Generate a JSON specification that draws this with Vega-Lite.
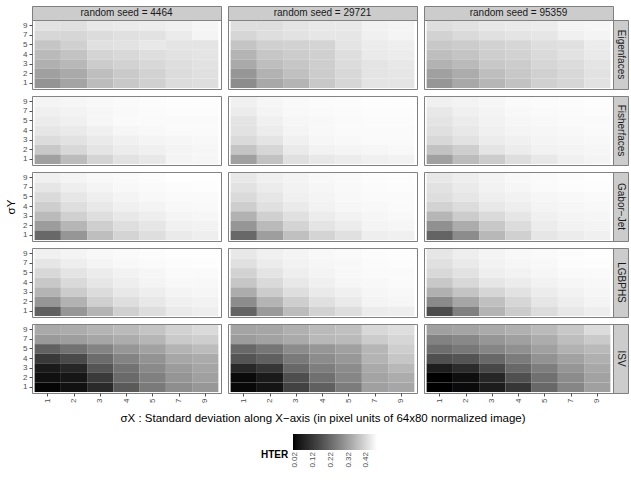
{
"$schema":"https://vega.github.io/schema/vega-lite/v6.json",
"padding":{"left":5,"top":5,"right":5,"bottom":5},
"background":"#ffffff",
"config":{
 "font":"Liberation Sans",
 "view":{"stroke":"#7f7f7f","strokeWidth":1},
 "axis":{"labelFont":"Liberation Sans","labelFontSize":8,"labelColor":"#4d4d4d","tickColor":"#4d4d4d","tickSize":3,"labelPadding":2,"domain":false,"grid":false,"titleFont":"Liberation Sans","titleFontWeight":"normal","titleFontSize":11.5,"titleColor":"#000000","titleLimit":700},
 "legend":{"orient":"none","legendX":229,"legendY":428,"direction":"horizontal","gradientLength":84,"gradientThickness":16,"titleOrient":"left","titleAnchor":"end","titleBaseline":"top","titleFontWeight":"bold","titleFontSize":10,"titleColor":"#000000","titleFont":"Liberation Sans","labelFont":"Liberation Sans","labelFontSize":8,"labelColor":"#4d4d4d","titlePadding":4,"gradientStrokeWidth":0}
},
"datasets":{
"Eigenfaces_4464":[
{"sx":1,"sy":9,"HTER":0.432},{"sx":2,"sy":9,"HTER":0.429},{"sx":3,"sy":9,"HTER":0.444},{"sx":4,"sy":9,"HTER":0.447},{"sx":5,"sy":9,"HTER":0.450},{"sx":7,"sy":9,"HTER":0.455},{"sx":9,"sy":9,"HTER":0.463},
{"sx":1,"sy":7,"HTER":0.413},{"sx":2,"sy":7,"HTER":0.412},{"sx":3,"sy":7,"HTER":0.422},{"sx":4,"sy":7,"HTER":0.429},{"sx":5,"sy":7,"HTER":0.432},{"sx":7,"sy":7,"HTER":0.447},{"sx":9,"sy":7,"HTER":0.462},
{"sx":1,"sy":5,"HTER":0.383},{"sx":2,"sy":5,"HTER":0.402},{"sx":3,"sy":5,"HTER":0.429},{"sx":4,"sy":5,"HTER":0.432},{"sx":5,"sy":5,"HTER":0.442},{"sx":7,"sy":5,"HTER":0.436},{"sx":9,"sy":5,"HTER":0.436},
{"sx":1,"sy":4,"HTER":0.364},{"sx":2,"sy":4,"HTER":0.380},{"sx":3,"sy":4,"HTER":0.408},{"sx":4,"sy":4,"HTER":0.415},{"sx":5,"sy":4,"HTER":0.425},{"sx":7,"sy":4,"HTER":0.432},{"sx":9,"sy":4,"HTER":0.436},
{"sx":1,"sy":3,"HTER":0.347},{"sx":2,"sy":3,"HTER":0.361},{"sx":3,"sy":3,"HTER":0.395},{"sx":4,"sy":3,"HTER":0.405},{"sx":5,"sy":3,"HTER":0.415},{"sx":7,"sy":3,"HTER":0.425},{"sx":9,"sy":3,"HTER":0.432},
{"sx":1,"sy":2,"HTER":0.319},{"sx":2,"sy":2,"HTER":0.336},{"sx":3,"sy":2,"HTER":0.371},{"sx":4,"sy":2,"HTER":0.391},{"sx":5,"sy":2,"HTER":0.405},{"sx":7,"sy":2,"HTER":0.422},{"sx":9,"sy":2,"HTER":0.429},
{"sx":1,"sy":1,"HTER":0.297},{"sx":2,"sy":1,"HTER":0.326},{"sx":3,"sy":1,"HTER":0.368},{"sx":4,"sy":1,"HTER":0.388},{"sx":5,"sy":1,"HTER":0.402},{"sx":7,"sy":1,"HTER":0.422},{"sx":9,"sy":1,"HTER":0.425}
],
"Eigenfaces_29721":[
{"sx":1,"sy":9,"HTER":0.425},{"sx":2,"sy":9,"HTER":0.425},{"sx":3,"sy":9,"HTER":0.436},{"sx":4,"sy":9,"HTER":0.442},{"sx":5,"sy":9,"HTER":0.442},{"sx":7,"sy":9,"HTER":0.458},{"sx":9,"sy":9,"HTER":0.462},
{"sx":1,"sy":7,"HTER":0.412},{"sx":2,"sy":7,"HTER":0.425},{"sx":3,"sy":7,"HTER":0.432},{"sx":4,"sy":7,"HTER":0.439},{"sx":5,"sy":7,"HTER":0.439},{"sx":7,"sy":7,"HTER":0.455},{"sx":9,"sy":7,"HTER":0.462},
{"sx":1,"sy":5,"HTER":0.381},{"sx":2,"sy":5,"HTER":0.402},{"sx":3,"sy":5,"HTER":0.405},{"sx":4,"sy":5,"HTER":0.408},{"sx":5,"sy":5,"HTER":0.436},{"sx":7,"sy":5,"HTER":0.448},{"sx":9,"sy":5,"HTER":0.452},
{"sx":1,"sy":4,"HTER":0.354},{"sx":2,"sy":4,"HTER":0.385},{"sx":3,"sy":4,"HTER":0.395},{"sx":4,"sy":4,"HTER":0.402},{"sx":5,"sy":4,"HTER":0.425},{"sx":7,"sy":4,"HTER":0.445},{"sx":9,"sy":4,"HTER":0.448},
{"sx":1,"sy":3,"HTER":0.336},{"sx":2,"sy":3,"HTER":0.371},{"sx":3,"sy":3,"HTER":0.385},{"sx":4,"sy":3,"HTER":0.398},{"sx":5,"sy":3,"HTER":0.422},{"sx":7,"sy":3,"HTER":0.436},{"sx":9,"sy":3,"HTER":0.442},
{"sx":1,"sy":2,"HTER":0.301},{"sx":2,"sy":2,"HTER":0.350},{"sx":3,"sy":2,"HTER":0.374},{"sx":4,"sy":2,"HTER":0.395},{"sx":5,"sy":2,"HTER":0.415},{"sx":7,"sy":2,"HTER":0.436},{"sx":9,"sy":2,"HTER":0.439},
{"sx":1,"sy":1,"HTER":0.283},{"sx":2,"sy":1,"HTER":0.333},{"sx":3,"sy":1,"HTER":0.354},{"sx":4,"sy":1,"HTER":0.388},{"sx":5,"sy":1,"HTER":0.412},{"sx":7,"sy":1,"HTER":0.436},{"sx":9,"sy":1,"HTER":0.436}
],
"Eigenfaces_95359":[
{"sx":1,"sy":9,"HTER":0.425},{"sx":2,"sy":9,"HTER":0.432},{"sx":3,"sy":9,"HTER":0.442},{"sx":4,"sy":9,"HTER":0.445},{"sx":5,"sy":9,"HTER":0.448},{"sx":7,"sy":9,"HTER":0.462},{"sx":9,"sy":9,"HTER":0.465},
{"sx":1,"sy":7,"HTER":0.405},{"sx":2,"sy":7,"HTER":0.418},{"sx":3,"sy":7,"HTER":0.429},{"sx":4,"sy":7,"HTER":0.436},{"sx":5,"sy":7,"HTER":0.439},{"sx":7,"sy":7,"HTER":0.455},{"sx":9,"sy":7,"HTER":0.462},
{"sx":1,"sy":5,"HTER":0.388},{"sx":2,"sy":5,"HTER":0.395},{"sx":3,"sy":5,"HTER":0.405},{"sx":4,"sy":5,"HTER":0.412},{"sx":5,"sy":5,"HTER":0.425},{"sx":7,"sy":5,"HTER":0.429},{"sx":9,"sy":5,"HTER":0.448},
{"sx":1,"sy":4,"HTER":0.371},{"sx":2,"sy":4,"HTER":0.381},{"sx":3,"sy":4,"HTER":0.398},{"sx":4,"sy":4,"HTER":0.405},{"sx":5,"sy":4,"HTER":0.418},{"sx":7,"sy":4,"HTER":0.432},{"sx":9,"sy":4,"HTER":0.445},
{"sx":1,"sy":3,"HTER":0.350},{"sx":2,"sy":3,"HTER":0.364},{"sx":3,"sy":3,"HTER":0.388},{"sx":4,"sy":3,"HTER":0.395},{"sx":5,"sy":3,"HTER":0.412},{"sx":7,"sy":3,"HTER":0.422},{"sx":9,"sy":3,"HTER":0.436},
{"sx":1,"sy":2,"HTER":0.319},{"sx":2,"sy":2,"HTER":0.340},{"sx":3,"sy":2,"HTER":0.371},{"sx":4,"sy":2,"HTER":0.388},{"sx":5,"sy":2,"HTER":0.402},{"sx":7,"sy":2,"HTER":0.415},{"sx":9,"sy":2,"HTER":0.432},
{"sx":1,"sy":1,"HTER":0.301},{"sx":2,"sy":1,"HTER":0.333},{"sx":3,"sy":1,"HTER":0.357},{"sx":4,"sy":1,"HTER":0.378},{"sx":5,"sy":1,"HTER":0.402},{"sx":7,"sy":1,"HTER":0.412},{"sx":9,"sy":1,"HTER":0.432}
],
"Fisherfaces_4464":[
{"sx":1,"sy":9,"HTER":0.462},{"sx":2,"sy":9,"HTER":0.465},{"sx":3,"sy":9,"HTER":0.468},{"sx":4,"sy":9,"HTER":0.472},{"sx":5,"sy":9,"HTER":0.475},{"sx":7,"sy":9,"HTER":0.477},{"sx":9,"sy":9,"HTER":0.477},
{"sx":1,"sy":7,"HTER":0.455},{"sx":2,"sy":7,"HTER":0.460},{"sx":3,"sy":7,"HTER":0.465},{"sx":4,"sy":7,"HTER":0.470},{"sx":5,"sy":7,"HTER":0.474},{"sx":7,"sy":7,"HTER":0.475},{"sx":9,"sy":7,"HTER":0.475},
{"sx":1,"sy":5,"HTER":0.448},{"sx":2,"sy":5,"HTER":0.455},{"sx":3,"sy":5,"HTER":0.465},{"sx":4,"sy":5,"HTER":0.472},{"sx":5,"sy":5,"HTER":0.472},{"sx":7,"sy":5,"HTER":0.472},{"sx":9,"sy":5,"HTER":0.472},
{"sx":1,"sy":4,"HTER":0.439},{"sx":2,"sy":4,"HTER":0.445},{"sx":3,"sy":4,"HTER":0.455},{"sx":4,"sy":4,"HTER":0.465},{"sx":5,"sy":4,"HTER":0.468},{"sx":7,"sy":4,"HTER":0.472},{"sx":9,"sy":4,"HTER":0.472},
{"sx":1,"sy":3,"HTER":0.422},{"sx":2,"sy":3,"HTER":0.432},{"sx":3,"sy":3,"HTER":0.445},{"sx":4,"sy":3,"HTER":0.455},{"sx":5,"sy":3,"HTER":0.462},{"sx":7,"sy":3,"HTER":0.465},{"sx":9,"sy":3,"HTER":0.468},
{"sx":1,"sy":2,"HTER":0.388},{"sx":2,"sy":2,"HTER":0.415},{"sx":3,"sy":2,"HTER":0.436},{"sx":4,"sy":2,"HTER":0.448},{"sx":5,"sy":2,"HTER":0.455},{"sx":7,"sy":2,"HTER":0.462},{"sx":9,"sy":2,"HTER":0.465},
{"sx":1,"sy":1,"HTER":0.319},{"sx":2,"sy":1,"HTER":0.368},{"sx":3,"sy":1,"HTER":0.408},{"sx":4,"sy":1,"HTER":0.432},{"sx":5,"sy":1,"HTER":0.442},{"sx":7,"sy":1,"HTER":0.462},{"sx":9,"sy":1,"HTER":0.465}
],
"Fisherfaces_29721":[
{"sx":1,"sy":9,"HTER":0.455},{"sx":2,"sy":9,"HTER":0.465},{"sx":3,"sy":9,"HTER":0.470},{"sx":4,"sy":9,"HTER":0.474},{"sx":5,"sy":9,"HTER":0.475},{"sx":7,"sy":9,"HTER":0.477},{"sx":9,"sy":9,"HTER":0.477},
{"sx":1,"sy":7,"HTER":0.448},{"sx":2,"sy":7,"HTER":0.462},{"sx":3,"sy":7,"HTER":0.468},{"sx":4,"sy":7,"HTER":0.472},{"sx":5,"sy":7,"HTER":0.474},{"sx":7,"sy":7,"HTER":0.475},{"sx":9,"sy":7,"HTER":0.475},
{"sx":1,"sy":5,"HTER":0.436},{"sx":2,"sy":5,"HTER":0.455},{"sx":3,"sy":5,"HTER":0.465},{"sx":4,"sy":5,"HTER":0.468},{"sx":5,"sy":5,"HTER":0.472},{"sx":7,"sy":5,"HTER":0.474},{"sx":9,"sy":5,"HTER":0.474},
{"sx":1,"sy":4,"HTER":0.432},{"sx":2,"sy":4,"HTER":0.448},{"sx":3,"sy":4,"HTER":0.462},{"sx":4,"sy":4,"HTER":0.468},{"sx":5,"sy":4,"HTER":0.472},{"sx":7,"sy":4,"HTER":0.472},{"sx":9,"sy":4,"HTER":0.472},
{"sx":1,"sy":3,"HTER":0.418},{"sx":2,"sy":3,"HTER":0.436},{"sx":3,"sy":3,"HTER":0.455},{"sx":4,"sy":3,"HTER":0.465},{"sx":5,"sy":3,"HTER":0.468},{"sx":7,"sy":3,"HTER":0.472},{"sx":9,"sy":3,"HTER":0.472},
{"sx":1,"sy":2,"HTER":0.381},{"sx":2,"sy":2,"HTER":0.412},{"sx":3,"sy":2,"HTER":0.445},{"sx":4,"sy":2,"HTER":0.458},{"sx":5,"sy":2,"HTER":0.462},{"sx":7,"sy":2,"HTER":0.465},{"sx":9,"sy":2,"HTER":0.468},
{"sx":1,"sy":1,"HTER":0.319},{"sx":2,"sy":1,"HTER":0.378},{"sx":3,"sy":1,"HTER":0.429},{"sx":4,"sy":1,"HTER":0.442},{"sx":5,"sy":1,"HTER":0.448},{"sx":7,"sy":1,"HTER":0.455},{"sx":9,"sy":1,"HTER":0.458}
],
"Fisherfaces_95359":[
{"sx":1,"sy":9,"HTER":0.455},{"sx":2,"sy":9,"HTER":0.460},{"sx":3,"sy":9,"HTER":0.465},{"sx":4,"sy":9,"HTER":0.472},{"sx":5,"sy":9,"HTER":0.474},{"sx":7,"sy":9,"HTER":0.475},{"sx":9,"sy":9,"HTER":0.477},
{"sx":1,"sy":7,"HTER":0.442},{"sx":2,"sy":7,"HTER":0.455},{"sx":3,"sy":7,"HTER":0.462},{"sx":4,"sy":7,"HTER":0.468},{"sx":5,"sy":7,"HTER":0.472},{"sx":7,"sy":7,"HTER":0.474},{"sx":9,"sy":7,"HTER":0.475},
{"sx":1,"sy":5,"HTER":0.436},{"sx":2,"sy":5,"HTER":0.448},{"sx":3,"sy":5,"HTER":0.458},{"sx":4,"sy":5,"HTER":0.465},{"sx":5,"sy":5,"HTER":0.468},{"sx":7,"sy":5,"HTER":0.472},{"sx":9,"sy":5,"HTER":0.472},
{"sx":1,"sy":4,"HTER":0.429},{"sx":2,"sy":4,"HTER":0.442},{"sx":3,"sy":4,"HTER":0.455},{"sx":4,"sy":4,"HTER":0.462},{"sx":5,"sy":4,"HTER":0.465},{"sx":7,"sy":4,"HTER":0.468},{"sx":9,"sy":4,"HTER":0.472},
{"sx":1,"sy":3,"HTER":0.415},{"sx":2,"sy":3,"HTER":0.432},{"sx":3,"sy":3,"HTER":0.448},{"sx":4,"sy":3,"HTER":0.455},{"sx":5,"sy":3,"HTER":0.462},{"sx":7,"sy":3,"HTER":0.465},{"sx":9,"sy":3,"HTER":0.468},
{"sx":1,"sy":2,"HTER":0.378},{"sx":2,"sy":2,"HTER":0.398},{"sx":3,"sy":2,"HTER":0.436},{"sx":4,"sy":2,"HTER":0.448},{"sx":5,"sy":2,"HTER":0.458},{"sx":7,"sy":2,"HTER":0.462},{"sx":9,"sy":2,"HTER":0.465},
{"sx":1,"sy":1,"HTER":0.319},{"sx":2,"sy":1,"HTER":0.368},{"sx":3,"sy":1,"HTER":0.395},{"sx":4,"sy":1,"HTER":0.425},{"sx":5,"sy":1,"HTER":0.442},{"sx":7,"sy":1,"HTER":0.455},{"sx":9,"sy":1,"HTER":0.462}
],
"GaborJet_4464":[
{"sx":1,"sy":9,"HTER":0.455},{"sx":2,"sy":9,"HTER":0.462},{"sx":3,"sy":9,"HTER":0.468},{"sx":4,"sy":9,"HTER":0.472},{"sx":5,"sy":9,"HTER":0.475},{"sx":7,"sy":9,"HTER":0.479},{"sx":9,"sy":9,"HTER":0.479},
{"sx":1,"sy":7,"HTER":0.439},{"sx":2,"sy":7,"HTER":0.452},{"sx":3,"sy":7,"HTER":0.462},{"sx":4,"sy":7,"HTER":0.468},{"sx":5,"sy":7,"HTER":0.472},{"sx":7,"sy":7,"HTER":0.475},{"sx":9,"sy":7,"HTER":0.477},
{"sx":1,"sy":5,"HTER":0.418},{"sx":2,"sy":5,"HTER":0.439},{"sx":3,"sy":5,"HTER":0.452},{"sx":4,"sy":5,"HTER":0.462},{"sx":5,"sy":5,"HTER":0.468},{"sx":7,"sy":5,"HTER":0.472},{"sx":9,"sy":5,"HTER":0.472},
{"sx":1,"sy":4,"HTER":0.398},{"sx":2,"sy":4,"HTER":0.425},{"sx":3,"sy":4,"HTER":0.442},{"sx":4,"sy":4,"HTER":0.455},{"sx":5,"sy":4,"HTER":0.462},{"sx":7,"sy":4,"HTER":0.468},{"sx":9,"sy":4,"HTER":0.470},
{"sx":1,"sy":3,"HTER":0.364},{"sx":2,"sy":3,"HTER":0.402},{"sx":3,"sy":3,"HTER":0.425},{"sx":4,"sy":3,"HTER":0.442},{"sx":5,"sy":3,"HTER":0.452},{"sx":7,"sy":3,"HTER":0.462},{"sx":9,"sy":3,"HTER":0.465},
{"sx":1,"sy":2,"HTER":0.312},{"sx":2,"sy":2,"HTER":0.357},{"sx":3,"sy":2,"HTER":0.398},{"sx":4,"sy":2,"HTER":0.425},{"sx":5,"sy":2,"HTER":0.439},{"sx":7,"sy":2,"HTER":0.455},{"sx":9,"sy":2,"HTER":0.458},
{"sx":1,"sy":1,"HTER":0.215},{"sx":2,"sy":1,"HTER":0.301},{"sx":3,"sy":1,"HTER":0.371},{"sx":4,"sy":1,"HTER":0.408},{"sx":5,"sy":1,"HTER":0.425},{"sx":7,"sy":1,"HTER":0.445},{"sx":9,"sy":1,"HTER":0.452}
],
"GaborJet_29721":[
{"sx":1,"sy":9,"HTER":0.442},{"sx":2,"sy":9,"HTER":0.455},{"sx":3,"sy":9,"HTER":0.462},{"sx":4,"sy":9,"HTER":0.468},{"sx":5,"sy":9,"HTER":0.472},{"sx":7,"sy":9,"HTER":0.475},{"sx":9,"sy":9,"HTER":0.477},
{"sx":1,"sy":7,"HTER":0.432},{"sx":2,"sy":7,"HTER":0.448},{"sx":3,"sy":7,"HTER":0.458},{"sx":4,"sy":7,"HTER":0.465},{"sx":5,"sy":7,"HTER":0.470},{"sx":7,"sy":7,"HTER":0.474},{"sx":9,"sy":7,"HTER":0.475},
{"sx":1,"sy":5,"HTER":0.418},{"sx":2,"sy":5,"HTER":0.439},{"sx":3,"sy":5,"HTER":0.455},{"sx":4,"sy":5,"HTER":0.462},{"sx":5,"sy":5,"HTER":0.468},{"sx":7,"sy":5,"HTER":0.472},{"sx":9,"sy":5,"HTER":0.472},
{"sx":1,"sy":4,"HTER":0.398},{"sx":2,"sy":4,"HTER":0.429},{"sx":3,"sy":4,"HTER":0.445},{"sx":4,"sy":4,"HTER":0.458},{"sx":5,"sy":4,"HTER":0.465},{"sx":7,"sy":4,"HTER":0.468},{"sx":9,"sy":4,"HTER":0.472},
{"sx":1,"sy":3,"HTER":0.350},{"sx":2,"sy":3,"HTER":0.402},{"sx":3,"sy":3,"HTER":0.429},{"sx":4,"sy":3,"HTER":0.448},{"sx":5,"sy":3,"HTER":0.458},{"sx":7,"sy":3,"HTER":0.465},{"sx":9,"sy":3,"HTER":0.468},
{"sx":1,"sy":2,"HTER":0.301},{"sx":2,"sy":2,"HTER":0.364},{"sx":3,"sy":2,"HTER":0.408},{"sx":4,"sy":2,"HTER":0.436},{"sx":5,"sy":2,"HTER":0.448},{"sx":7,"sy":2,"HTER":0.462},{"sx":9,"sy":2,"HTER":0.465},
{"sx":1,"sy":1,"HTER":0.215},{"sx":2,"sy":1,"HTER":0.315},{"sx":3,"sy":1,"HTER":0.374},{"sx":4,"sy":1,"HTER":0.408},{"sx":5,"sy":1,"HTER":0.429},{"sx":7,"sy":1,"HTER":0.452},{"sx":9,"sy":1,"HTER":0.455}
],
"GaborJet_95359":[
{"sx":1,"sy":9,"HTER":0.442},{"sx":2,"sy":9,"HTER":0.452},{"sx":3,"sy":9,"HTER":0.462},{"sx":4,"sy":9,"HTER":0.468},{"sx":5,"sy":9,"HTER":0.472},{"sx":7,"sy":9,"HTER":0.475},{"sx":9,"sy":9,"HTER":0.479},
{"sx":1,"sy":7,"HTER":0.432},{"sx":2,"sy":7,"HTER":0.445},{"sx":3,"sy":7,"HTER":0.458},{"sx":4,"sy":7,"HTER":0.465},{"sx":5,"sy":7,"HTER":0.472},{"sx":7,"sy":7,"HTER":0.475},{"sx":9,"sy":7,"HTER":0.477},
{"sx":1,"sy":5,"HTER":0.425},{"sx":2,"sy":5,"HTER":0.439},{"sx":3,"sy":5,"HTER":0.452},{"sx":4,"sy":5,"HTER":0.458},{"sx":5,"sy":5,"HTER":0.465},{"sx":7,"sy":5,"HTER":0.468},{"sx":9,"sy":5,"HTER":0.472},
{"sx":1,"sy":4,"HTER":0.405},{"sx":2,"sy":4,"HTER":0.422},{"sx":3,"sy":4,"HTER":0.442},{"sx":4,"sy":4,"HTER":0.452},{"sx":5,"sy":4,"HTER":0.462},{"sx":7,"sy":4,"HTER":0.465},{"sx":9,"sy":4,"HTER":0.468},
{"sx":1,"sy":3,"HTER":0.357},{"sx":2,"sy":3,"HTER":0.395},{"sx":3,"sy":3,"HTER":0.418},{"sx":4,"sy":3,"HTER":0.439},{"sx":5,"sy":3,"HTER":0.455},{"sx":7,"sy":3,"HTER":0.462},{"sx":9,"sy":3,"HTER":0.465},
{"sx":1,"sy":2,"HTER":0.290},{"sx":2,"sy":2,"HTER":0.340},{"sx":3,"sy":2,"HTER":0.388},{"sx":4,"sy":2,"HTER":0.422},{"sx":5,"sy":2,"HTER":0.448},{"sx":7,"sy":2,"HTER":0.458},{"sx":9,"sy":2,"HTER":0.462},
{"sx":1,"sy":1,"HTER":0.208},{"sx":2,"sy":1,"HTER":0.283},{"sx":3,"sy":1,"HTER":0.361},{"sx":4,"sy":1,"HTER":0.402},{"sx":5,"sy":1,"HTER":0.439},{"sx":7,"sy":1,"HTER":0.448},{"sx":9,"sy":1,"HTER":0.455}
],
"LGBPHS_4464":[
{"sx":1,"sy":9,"HTER":0.455},{"sx":2,"sy":9,"HTER":0.462},{"sx":3,"sy":9,"HTER":0.468},{"sx":4,"sy":9,"HTER":0.472},{"sx":5,"sy":9,"HTER":0.475},{"sx":7,"sy":9,"HTER":0.479},{"sx":9,"sy":9,"HTER":0.479},
{"sx":1,"sy":7,"HTER":0.439},{"sx":2,"sy":7,"HTER":0.452},{"sx":3,"sy":7,"HTER":0.462},{"sx":4,"sy":7,"HTER":0.468},{"sx":5,"sy":7,"HTER":0.472},{"sx":7,"sy":7,"HTER":0.475},{"sx":9,"sy":7,"HTER":0.477},
{"sx":1,"sy":5,"HTER":0.415},{"sx":2,"sy":5,"HTER":0.436},{"sx":3,"sy":5,"HTER":0.448},{"sx":4,"sy":5,"HTER":0.458},{"sx":5,"sy":5,"HTER":0.465},{"sx":7,"sy":5,"HTER":0.472},{"sx":9,"sy":5,"HTER":0.472},
{"sx":1,"sy":4,"HTER":0.388},{"sx":2,"sy":4,"HTER":0.418},{"sx":3,"sy":4,"HTER":0.439},{"sx":4,"sy":4,"HTER":0.452},{"sx":5,"sy":4,"HTER":0.462},{"sx":7,"sy":4,"HTER":0.468},{"sx":9,"sy":4,"HTER":0.468},
{"sx":1,"sy":3,"HTER":0.354},{"sx":2,"sy":3,"HTER":0.395},{"sx":3,"sy":3,"HTER":0.422},{"sx":4,"sy":3,"HTER":0.442},{"sx":5,"sy":3,"HTER":0.452},{"sx":7,"sy":3,"HTER":0.462},{"sx":9,"sy":3,"HTER":0.465},
{"sx":1,"sy":2,"HTER":0.301},{"sx":2,"sy":2,"HTER":0.350},{"sx":3,"sy":2,"HTER":0.402},{"sx":4,"sy":2,"HTER":0.425},{"sx":5,"sy":2,"HTER":0.442},{"sx":7,"sy":2,"HTER":0.455},{"sx":9,"sy":2,"HTER":0.458},
{"sx":1,"sy":1,"HTER":0.200},{"sx":2,"sy":1,"HTER":0.301},{"sx":3,"sy":1,"HTER":0.354},{"sx":4,"sy":1,"HTER":0.402},{"sx":5,"sy":1,"HTER":0.425},{"sx":7,"sy":1,"HTER":0.445},{"sx":9,"sy":1,"HTER":0.452}
],
"LGBPHS_29721":[
{"sx":1,"sy":9,"HTER":0.442},{"sx":2,"sy":9,"HTER":0.455},{"sx":3,"sy":9,"HTER":0.462},{"sx":4,"sy":9,"HTER":0.468},{"sx":5,"sy":9,"HTER":0.472},{"sx":7,"sy":9,"HTER":0.475},{"sx":9,"sy":9,"HTER":0.477},
{"sx":1,"sy":7,"HTER":0.429},{"sx":2,"sy":7,"HTER":0.448},{"sx":3,"sy":7,"HTER":0.458},{"sx":4,"sy":7,"HTER":0.465},{"sx":5,"sy":7,"HTER":0.468},{"sx":7,"sy":7,"HTER":0.474},{"sx":9,"sy":7,"HTER":0.475},
{"sx":1,"sy":5,"HTER":0.405},{"sx":2,"sy":5,"HTER":0.436},{"sx":3,"sy":5,"HTER":0.452},{"sx":4,"sy":5,"HTER":0.462},{"sx":5,"sy":5,"HTER":0.468},{"sx":7,"sy":5,"HTER":0.472},{"sx":9,"sy":5,"HTER":0.472},
{"sx":1,"sy":4,"HTER":0.385},{"sx":2,"sy":4,"HTER":0.418},{"sx":3,"sy":4,"HTER":0.442},{"sx":4,"sy":4,"HTER":0.455},{"sx":5,"sy":4,"HTER":0.465},{"sx":7,"sy":4,"HTER":0.468},{"sx":9,"sy":4,"HTER":0.472},
{"sx":1,"sy":3,"HTER":0.340},{"sx":2,"sy":3,"HTER":0.395},{"sx":3,"sy":3,"HTER":0.425},{"sx":4,"sy":3,"HTER":0.445},{"sx":5,"sy":3,"HTER":0.455},{"sx":7,"sy":3,"HTER":0.465},{"sx":9,"sy":3,"HTER":0.468},
{"sx":1,"sy":2,"HTER":0.283},{"sx":2,"sy":2,"HTER":0.354},{"sx":3,"sy":2,"HTER":0.398},{"sx":4,"sy":2,"HTER":0.429},{"sx":5,"sy":2,"HTER":0.445},{"sx":7,"sy":2,"HTER":0.462},{"sx":9,"sy":2,"HTER":0.465},
{"sx":1,"sy":1,"HTER":0.208},{"sx":2,"sy":1,"HTER":0.308},{"sx":3,"sy":1,"HTER":0.368},{"sx":4,"sy":1,"HTER":0.405},{"sx":5,"sy":1,"HTER":0.425},{"sx":7,"sy":1,"HTER":0.448},{"sx":9,"sy":1,"HTER":0.452}
],
"LGBPHS_95359":[
{"sx":1,"sy":9,"HTER":0.439},{"sx":2,"sy":9,"HTER":0.452},{"sx":3,"sy":9,"HTER":0.462},{"sx":4,"sy":9,"HTER":0.468},{"sx":5,"sy":9,"HTER":0.472},{"sx":7,"sy":9,"HTER":0.475},{"sx":9,"sy":9,"HTER":0.479},
{"sx":1,"sy":7,"HTER":0.429},{"sx":2,"sy":7,"HTER":0.445},{"sx":3,"sy":7,"HTER":0.458},{"sx":4,"sy":7,"HTER":0.465},{"sx":5,"sy":7,"HTER":0.468},{"sx":7,"sy":7,"HTER":0.475},{"sx":9,"sy":7,"HTER":0.477},
{"sx":1,"sy":5,"HTER":0.415},{"sx":2,"sy":5,"HTER":0.432},{"sx":3,"sy":5,"HTER":0.452},{"sx":4,"sy":5,"HTER":0.458},{"sx":5,"sy":5,"HTER":0.465},{"sx":7,"sy":5,"HTER":0.472},{"sx":9,"sy":5,"HTER":0.472},
{"sx":1,"sy":4,"HTER":0.388},{"sx":2,"sy":4,"HTER":0.415},{"sx":3,"sy":4,"HTER":0.439},{"sx":4,"sy":4,"HTER":0.448},{"sx":5,"sy":4,"HTER":0.458},{"sx":7,"sy":4,"HTER":0.465},{"sx":9,"sy":4,"HTER":0.468},
{"sx":1,"sy":3,"HTER":0.347},{"sx":2,"sy":3,"HTER":0.381},{"sx":3,"sy":3,"HTER":0.412},{"sx":4,"sy":3,"HTER":0.432},{"sx":5,"sy":3,"HTER":0.448},{"sx":7,"sy":3,"HTER":0.458},{"sx":9,"sy":3,"HTER":0.465},
{"sx":1,"sy":2,"HTER":0.279},{"sx":2,"sy":2,"HTER":0.329},{"sx":3,"sy":2,"HTER":0.374},{"sx":4,"sy":2,"HTER":0.412},{"sx":5,"sy":2,"HTER":0.439},{"sx":7,"sy":2,"HTER":0.452},{"sx":9,"sy":2,"HTER":0.462},
{"sx":1,"sy":1,"HTER":0.160},{"sx":2,"sy":1,"HTER":0.260},{"sx":3,"sy":1,"HTER":0.354},{"sx":4,"sy":1,"HTER":0.395},{"sx":5,"sy":1,"HTER":0.422},{"sx":7,"sy":1,"HTER":0.442},{"sx":9,"sy":1,"HTER":0.452}
],
"ISV_4464":[
{"sx":1,"sy":9,"HTER":0.334},{"sx":2,"sy":9,"HTER":0.340},{"sx":3,"sy":9,"HTER":0.354},{"sx":4,"sy":9,"HTER":0.364},{"sx":5,"sy":9,"HTER":0.381},{"sx":7,"sy":9,"HTER":0.405},{"sx":9,"sy":9,"HTER":0.418},
{"sx":1,"sy":7,"HTER":0.308},{"sx":2,"sy":7,"HTER":0.315},{"sx":3,"sy":7,"HTER":0.329},{"sx":4,"sy":7,"HTER":0.340},{"sx":5,"sy":7,"HTER":0.357},{"sx":7,"sy":7,"HTER":0.391},{"sx":9,"sy":7,"HTER":0.398},
{"sx":1,"sy":5,"HTER":0.202},{"sx":2,"sy":5,"HTER":0.234},{"sx":3,"sy":5,"HTER":0.268},{"sx":4,"sy":5,"HTER":0.301},{"sx":5,"sy":5,"HTER":0.322},{"sx":7,"sy":5,"HTER":0.354},{"sx":9,"sy":5,"HTER":0.368},
{"sx":1,"sy":4,"HTER":0.120},{"sx":2,"sy":4,"HTER":0.156},{"sx":3,"sy":4,"HTER":0.222},{"sx":4,"sy":4,"HTER":0.266},{"sx":5,"sy":4,"HTER":0.296},{"sx":7,"sy":4,"HTER":0.331},{"sx":9,"sy":4,"HTER":0.338},
{"sx":1,"sy":3,"HTER":0.050},{"sx":2,"sy":3,"HTER":0.078},{"sx":3,"sy":3,"HTER":0.178},{"sx":4,"sy":3,"HTER":0.236},{"sx":5,"sy":3,"HTER":0.279},{"sx":7,"sy":3,"HTER":0.312},{"sx":9,"sy":3,"HTER":0.327},
{"sx":1,"sy":2,"HTER":0.029},{"sx":2,"sy":2,"HTER":0.041},{"sx":3,"sy":2,"HTER":0.122},{"sx":4,"sy":2,"HTER":0.219},{"sx":5,"sy":2,"HTER":0.260},{"sx":7,"sy":2,"HTER":0.299},{"sx":9,"sy":2,"HTER":0.319},
{"sx":1,"sy":1,"HTER":0.013},{"sx":2,"sy":1,"HTER":0.031},{"sx":3,"sy":1,"HTER":0.087},{"sx":4,"sy":1,"HTER":0.188},{"sx":5,"sy":1,"HTER":0.249},{"sx":7,"sy":1,"HTER":0.287},{"sx":9,"sy":1,"HTER":0.303}
],
"ISV_29721":[
{"sx":1,"sy":9,"HTER":0.326},{"sx":2,"sy":9,"HTER":0.329},{"sx":3,"sy":9,"HTER":0.347},{"sx":4,"sy":9,"HTER":0.364},{"sx":5,"sy":9,"HTER":0.374},{"sx":7,"sy":9,"HTER":0.415},{"sx":9,"sy":9,"HTER":0.425},
{"sx":1,"sy":7,"HTER":0.312},{"sx":2,"sy":7,"HTER":0.322},{"sx":3,"sy":7,"HTER":0.336},{"sx":4,"sy":7,"HTER":0.361},{"sx":5,"sy":7,"HTER":0.364},{"sx":7,"sy":7,"HTER":0.395},{"sx":9,"sy":7,"HTER":0.412},
{"sx":1,"sy":5,"HTER":0.215},{"sx":2,"sy":5,"HTER":0.241},{"sx":3,"sy":5,"HTER":0.283},{"sx":4,"sy":5,"HTER":0.301},{"sx":5,"sy":5,"HTER":0.319},{"sx":7,"sy":5,"HTER":0.357},{"sx":9,"sy":5,"HTER":0.398},
{"sx":1,"sy":4,"HTER":0.176},{"sx":2,"sy":4,"HTER":0.200},{"sx":3,"sy":4,"HTER":0.249},{"sx":4,"sy":4,"HTER":0.283},{"sx":5,"sy":4,"HTER":0.305},{"sx":7,"sy":4,"HTER":0.354},{"sx":9,"sy":4,"HTER":0.385},
{"sx":1,"sy":3,"HTER":0.083},{"sx":2,"sy":3,"HTER":0.114},{"sx":3,"sy":3,"HTER":0.215},{"sx":4,"sy":3,"HTER":0.257},{"sx":5,"sy":3,"HTER":0.283},{"sx":7,"sy":3,"HTER":0.336},{"sx":9,"sy":3,"HTER":0.361},
{"sx":1,"sy":2,"HTER":0.020},{"sx":2,"sy":2,"HTER":0.050},{"sx":3,"sy":2,"HTER":0.164},{"sx":4,"sy":2,"HTER":0.230},{"sx":5,"sy":2,"HTER":0.272},{"sx":7,"sy":2,"HTER":0.326},{"sx":9,"sy":2,"HTER":0.340},
{"sx":1,"sy":1,"HTER":0.017},{"sx":2,"sy":1,"HTER":0.036},{"sx":3,"sy":1,"HTER":0.139},{"sx":4,"sy":1,"HTER":0.200},{"sx":5,"sy":1,"HTER":0.253},{"sx":7,"sy":1,"HTER":0.319},{"sx":9,"sy":1,"HTER":0.329}
],
"ISV_95359":[
{"sx":1,"sy":9,"HTER":0.319},{"sx":2,"sy":9,"HTER":0.326},{"sx":3,"sy":9,"HTER":0.336},{"sx":4,"sy":9,"HTER":0.347},{"sx":5,"sy":9,"HTER":0.364},{"sx":7,"sy":9,"HTER":0.388},{"sx":9,"sy":9,"HTER":0.422},
{"sx":1,"sy":7,"HTER":0.264},{"sx":2,"sy":7,"HTER":0.275},{"sx":3,"sy":7,"HTER":0.301},{"sx":4,"sy":7,"HTER":0.319},{"sx":5,"sy":7,"HTER":0.340},{"sx":7,"sy":7,"HTER":0.371},{"sx":9,"sy":7,"HTER":0.391},
{"sx":1,"sy":5,"HTER":0.226},{"sx":2,"sy":5,"HTER":0.245},{"sx":3,"sy":5,"HTER":0.272},{"sx":4,"sy":5,"HTER":0.290},{"sx":5,"sy":5,"HTER":0.319},{"sx":7,"sy":5,"HTER":0.350},{"sx":9,"sy":5,"HTER":0.364},
{"sx":1,"sy":4,"HTER":0.168},{"sx":2,"sy":4,"HTER":0.176},{"sx":3,"sy":4,"HTER":0.215},{"sx":4,"sy":4,"HTER":0.253},{"sx":5,"sy":4,"HTER":0.294},{"sx":7,"sy":4,"HTER":0.322},{"sx":9,"sy":4,"HTER":0.347},
{"sx":1,"sy":3,"HTER":0.060},{"sx":2,"sy":3,"HTER":0.092},{"sx":3,"sy":3,"HTER":0.152},{"sx":4,"sy":3,"HTER":0.215},{"sx":5,"sy":3,"HTER":0.257},{"sx":7,"sy":3,"HTER":0.301},{"sx":9,"sy":3,"HTER":0.333},
{"sx":1,"sy":2,"HTER":0.007},{"sx":2,"sy":2,"HTER":0.026},{"sx":3,"sy":2,"HTER":0.078},{"sx":4,"sy":2,"HTER":0.168},{"sx":5,"sy":2,"HTER":0.230},{"sx":7,"sy":2,"HTER":0.283},{"sx":9,"sy":2,"HTER":0.322},
{"sx":1,"sy":1,"HTER":0.007},{"sx":2,"sy":1,"HTER":0.020},{"sx":3,"sy":1,"HTER":0.055},{"sx":4,"sy":1,"HTER":0.114},{"sx":5,"sy":1,"HTER":0.215},{"sx":7,"sy":1,"HTER":0.272},{"sx":9,"sy":1,"HTER":0.319}
]
},
"columns":6,
"spacing":0,
"bounds":"flush",
"align":"each",
"resolve":{"scale":{"color":"shared"},"legend":{"color":"shared"}},
"concat":[
 {"width":189,"height":14,"view":{"fill":"#cccccc","stroke":"#7f7f7f"},"data":{"values":[{"label":"random seed = 4464"}]},"mark":{"type":"text","fontSize":10,"font":"Liberation Sans","color":"#1a1a1a"},"encoding":{"text":{"field":"label"}}},
 {"width":7,"height":6.5,"view":{"stroke":null},"data":{"values":[]},"mark":{"type":"point"},"encoding":{}},
 {"width":189,"height":14,"view":{"fill":"#cccccc","stroke":"#7f7f7f"},"data":{"values":[{"label":"random seed = 29721"}]},"mark":{"type":"text","fontSize":10,"font":"Liberation Sans","color":"#1a1a1a"},"encoding":{"text":{"field":"label"}}},
 {"width":7,"height":6.5,"view":{"stroke":null},"data":{"values":[]},"mark":{"type":"point"},"encoding":{}},
 {"width":189,"height":14,"view":{"fill":"#cccccc","stroke":"#7f7f7f"},"data":{"values":[{"label":"random seed = 95359"}]},"mark":{"type":"text","fontSize":10,"font":"Liberation Sans","color":"#1a1a1a"},"encoding":{"text":{"field":"label"}}},
 {"width":7,"height":6.5,"view":{"stroke":null},"data":{"values":[]},"mark":{"type":"point"},"encoding":{}},

 {"width":189,"height":69,"data":{"name":"Eigenfaces_4464"},"mark":{"type":"rect"},"encoding":{
  "x":{"field":"sx","type":"ordinal","scale":{"type":"band","domain":[1,2,3,4,5,7,9],"paddingInner":0,"paddingOuter":0.1},"axis":null},
  "y":{"field":"sy","type":"ordinal","scale":{"type":"band","domain":[9,7,5,4,3,2,1],"paddingInner":0,"paddingOuter":0.1},"axis":{"title":null,"labelAngle":0}},
  "color":{"field":"HTER","type":"quantitative","scale":{"domain":[0.007,0.48],"range":["#000000","#ffffff"],"interpolate":"lab"},"legend":{"values":[0.02,0.12,0.22,0.32,0.42],"format":".2f","encode":{"labels":{"update":{"angle":{"value":-90},"align":{"value":"right"},"baseline":{"value":"middle"}}}}}}}},
 {"width":7,"height":6.5,"view":{"stroke":null},"data":{"values":[]},"mark":{"type":"point"},"encoding":{}},
 {"width":189,"height":69,"data":{"name":"Eigenfaces_29721"},"mark":{"type":"rect"},"encoding":{
  "x":{"field":"sx","type":"ordinal","scale":{"type":"band","domain":[1,2,3,4,5,7,9],"paddingInner":0,"paddingOuter":0.1},"axis":null},
  "y":{"field":"sy","type":"ordinal","scale":{"type":"band","domain":[9,7,5,4,3,2,1],"paddingInner":0,"paddingOuter":0.1},"axis":null},
  "color":{"field":"HTER","type":"quantitative","scale":{"domain":[0.007,0.48],"range":["#000000","#ffffff"],"interpolate":"lab"},"legend":{"values":[0.02,0.12,0.22,0.32,0.42],"format":".2f","encode":{"labels":{"update":{"angle":{"value":-90},"align":{"value":"right"},"baseline":{"value":"middle"}}}}}}}},
 {"width":7,"height":6.5,"view":{"stroke":null},"data":{"values":[]},"mark":{"type":"point"},"encoding":{}},
 {"width":189,"height":69,"data":{"name":"Eigenfaces_95359"},"mark":{"type":"rect"},"encoding":{
  "x":{"field":"sx","type":"ordinal","scale":{"type":"band","domain":[1,2,3,4,5,7,9],"paddingInner":0,"paddingOuter":0.1},"axis":null},
  "y":{"field":"sy","type":"ordinal","scale":{"type":"band","domain":[9,7,5,4,3,2,1],"paddingInner":0,"paddingOuter":0.1},"axis":null},
  "color":{"field":"HTER","type":"quantitative","scale":{"domain":[0.007,0.48],"range":["#000000","#ffffff"],"interpolate":"lab"},"legend":{"values":[0.02,0.12,0.22,0.32,0.42],"format":".2f","encode":{"labels":{"update":{"angle":{"value":-90},"align":{"value":"right"},"baseline":{"value":"middle"}}}}}}}},
 {"width":15,"height":69,"view":{"fill":"#cccccc","stroke":"#7f7f7f"},"data":{"values":[{"label":"Eigenfaces"}]},"mark":{"type":"text","fontSize":10,"angle":90,"font":"Liberation Sans","color":"#1a1a1a"},"encoding":{"text":{"field":"label"}}},

 {"width":7,"height":6.5,"view":{"stroke":null},"data":{"values":[]},"mark":{"type":"point"},"encoding":{}},
 {"width":7,"height":6.5,"view":{"stroke":null},"data":{"values":[]},"mark":{"type":"point"},"encoding":{}},
 {"width":7,"height":6.5,"view":{"stroke":null},"data":{"values":[]},"mark":{"type":"point"},"encoding":{}},
 {"width":7,"height":6.5,"view":{"stroke":null},"data":{"values":[]},"mark":{"type":"point"},"encoding":{}},
 {"width":7,"height":6.5,"view":{"stroke":null},"data":{"values":[]},"mark":{"type":"point"},"encoding":{}},
 {"width":7,"height":6.5,"view":{"stroke":null},"data":{"values":[]},"mark":{"type":"point"},"encoding":{}},

 {"width":189,"height":69,"data":{"name":"Fisherfaces_4464"},"mark":{"type":"rect"},"encoding":{
  "x":{"field":"sx","type":"ordinal","scale":{"type":"band","domain":[1,2,3,4,5,7,9],"paddingInner":0,"paddingOuter":0.1},"axis":null},
  "y":{"field":"sy","type":"ordinal","scale":{"type":"band","domain":[9,7,5,4,3,2,1],"paddingInner":0,"paddingOuter":0.1},"axis":{"title":null,"labelAngle":0}},
  "color":{"field":"HTER","type":"quantitative","scale":{"domain":[0.007,0.48],"range":["#000000","#ffffff"],"interpolate":"lab"},"legend":{"values":[0.02,0.12,0.22,0.32,0.42],"format":".2f","encode":{"labels":{"update":{"angle":{"value":-90},"align":{"value":"right"},"baseline":{"value":"middle"}}}}}}}},
 {"width":7,"height":6.5,"view":{"stroke":null},"data":{"values":[]},"mark":{"type":"point"},"encoding":{}},
 {"width":189,"height":69,"data":{"name":"Fisherfaces_29721"},"mark":{"type":"rect"},"encoding":{
  "x":{"field":"sx","type":"ordinal","scale":{"type":"band","domain":[1,2,3,4,5,7,9],"paddingInner":0,"paddingOuter":0.1},"axis":null},
  "y":{"field":"sy","type":"ordinal","scale":{"type":"band","domain":[9,7,5,4,3,2,1],"paddingInner":0,"paddingOuter":0.1},"axis":null},
  "color":{"field":"HTER","type":"quantitative","scale":{"domain":[0.007,0.48],"range":["#000000","#ffffff"],"interpolate":"lab"},"legend":{"values":[0.02,0.12,0.22,0.32,0.42],"format":".2f","encode":{"labels":{"update":{"angle":{"value":-90},"align":{"value":"right"},"baseline":{"value":"middle"}}}}}}}},
 {"width":7,"height":6.5,"view":{"stroke":null},"data":{"values":[]},"mark":{"type":"point"},"encoding":{}},
 {"width":189,"height":69,"data":{"name":"Fisherfaces_95359"},"mark":{"type":"rect"},"encoding":{
  "x":{"field":"sx","type":"ordinal","scale":{"type":"band","domain":[1,2,3,4,5,7,9],"paddingInner":0,"paddingOuter":0.1},"axis":null},
  "y":{"field":"sy","type":"ordinal","scale":{"type":"band","domain":[9,7,5,4,3,2,1],"paddingInner":0,"paddingOuter":0.1},"axis":null},
  "color":{"field":"HTER","type":"quantitative","scale":{"domain":[0.007,0.48],"range":["#000000","#ffffff"],"interpolate":"lab"},"legend":{"values":[0.02,0.12,0.22,0.32,0.42],"format":".2f","encode":{"labels":{"update":{"angle":{"value":-90},"align":{"value":"right"},"baseline":{"value":"middle"}}}}}}}},
 {"width":15,"height":69,"view":{"fill":"#cccccc","stroke":"#7f7f7f"},"data":{"values":[{"label":"Fisherfaces"}]},"mark":{"type":"text","fontSize":10,"angle":90,"font":"Liberation Sans","color":"#1a1a1a"},"encoding":{"text":{"field":"label"}}},

 {"width":7,"height":6.5,"view":{"stroke":null},"data":{"values":[]},"mark":{"type":"point"},"encoding":{}},
 {"width":7,"height":6.5,"view":{"stroke":null},"data":{"values":[]},"mark":{"type":"point"},"encoding":{}},
 {"width":7,"height":6.5,"view":{"stroke":null},"data":{"values":[]},"mark":{"type":"point"},"encoding":{}},
 {"width":7,"height":6.5,"view":{"stroke":null},"data":{"values":[]},"mark":{"type":"point"},"encoding":{}},
 {"width":7,"height":6.5,"view":{"stroke":null},"data":{"values":[]},"mark":{"type":"point"},"encoding":{}},
 {"width":7,"height":6.5,"view":{"stroke":null},"data":{"values":[]},"mark":{"type":"point"},"encoding":{}},

 {"width":189,"height":69,"data":{"name":"GaborJet_4464"},"mark":{"type":"rect"},"encoding":{
  "x":{"field":"sx","type":"ordinal","scale":{"type":"band","domain":[1,2,3,4,5,7,9],"paddingInner":0,"paddingOuter":0.1},"axis":null},
  "y":{"field":"sy","type":"ordinal","scale":{"type":"band","domain":[9,7,5,4,3,2,1],"paddingInner":0,"paddingOuter":0.1},"axis":{"title":"σY","labelAngle":0,"titlePadding":6}},
  "color":{"field":"HTER","type":"quantitative","scale":{"domain":[0.007,0.48],"range":["#000000","#ffffff"],"interpolate":"lab"},"legend":{"values":[0.02,0.12,0.22,0.32,0.42],"format":".2f","encode":{"labels":{"update":{"angle":{"value":-90},"align":{"value":"right"},"baseline":{"value":"middle"}}}}}}}},
 {"width":7,"height":6.5,"view":{"stroke":null},"data":{"values":[]},"mark":{"type":"point"},"encoding":{}},
 {"width":189,"height":69,"data":{"name":"GaborJet_29721"},"mark":{"type":"rect"},"encoding":{
  "x":{"field":"sx","type":"ordinal","scale":{"type":"band","domain":[1,2,3,4,5,7,9],"paddingInner":0,"paddingOuter":0.1},"axis":null},
  "y":{"field":"sy","type":"ordinal","scale":{"type":"band","domain":[9,7,5,4,3,2,1],"paddingInner":0,"paddingOuter":0.1},"axis":null},
  "color":{"field":"HTER","type":"quantitative","scale":{"domain":[0.007,0.48],"range":["#000000","#ffffff"],"interpolate":"lab"},"legend":{"values":[0.02,0.12,0.22,0.32,0.42],"format":".2f","encode":{"labels":{"update":{"angle":{"value":-90},"align":{"value":"right"},"baseline":{"value":"middle"}}}}}}}},
 {"width":7,"height":6.5,"view":{"stroke":null},"data":{"values":[]},"mark":{"type":"point"},"encoding":{}},
 {"width":189,"height":69,"data":{"name":"GaborJet_95359"},"mark":{"type":"rect"},"encoding":{
  "x":{"field":"sx","type":"ordinal","scale":{"type":"band","domain":[1,2,3,4,5,7,9],"paddingInner":0,"paddingOuter":0.1},"axis":null},
  "y":{"field":"sy","type":"ordinal","scale":{"type":"band","domain":[9,7,5,4,3,2,1],"paddingInner":0,"paddingOuter":0.1},"axis":null},
  "color":{"field":"HTER","type":"quantitative","scale":{"domain":[0.007,0.48],"range":["#000000","#ffffff"],"interpolate":"lab"},"legend":{"values":[0.02,0.12,0.22,0.32,0.42],"format":".2f","encode":{"labels":{"update":{"angle":{"value":-90},"align":{"value":"right"},"baseline":{"value":"middle"}}}}}}}},
 {"width":15,"height":69,"view":{"fill":"#cccccc","stroke":"#7f7f7f"},"data":{"values":[{"label":"Gabor−Jet"}]},"mark":{"type":"text","fontSize":10,"angle":90,"font":"Liberation Sans","color":"#1a1a1a"},"encoding":{"text":{"field":"label"}}},

 {"width":7,"height":6.5,"view":{"stroke":null},"data":{"values":[]},"mark":{"type":"point"},"encoding":{}},
 {"width":7,"height":6.5,"view":{"stroke":null},"data":{"values":[]},"mark":{"type":"point"},"encoding":{}},
 {"width":7,"height":6.5,"view":{"stroke":null},"data":{"values":[]},"mark":{"type":"point"},"encoding":{}},
 {"width":7,"height":6.5,"view":{"stroke":null},"data":{"values":[]},"mark":{"type":"point"},"encoding":{}},
 {"width":7,"height":6.5,"view":{"stroke":null},"data":{"values":[]},"mark":{"type":"point"},"encoding":{}},
 {"width":7,"height":6.5,"view":{"stroke":null},"data":{"values":[]},"mark":{"type":"point"},"encoding":{}},

 {"width":189,"height":69,"data":{"name":"LGBPHS_4464"},"mark":{"type":"rect"},"encoding":{
  "x":{"field":"sx","type":"ordinal","scale":{"type":"band","domain":[1,2,3,4,5,7,9],"paddingInner":0,"paddingOuter":0.1},"axis":null},
  "y":{"field":"sy","type":"ordinal","scale":{"type":"band","domain":[9,7,5,4,3,2,1],"paddingInner":0,"paddingOuter":0.1},"axis":{"title":null,"labelAngle":0}},
  "color":{"field":"HTER","type":"quantitative","scale":{"domain":[0.007,0.48],"range":["#000000","#ffffff"],"interpolate":"lab"},"legend":{"values":[0.02,0.12,0.22,0.32,0.42],"format":".2f","encode":{"labels":{"update":{"angle":{"value":-90},"align":{"value":"right"},"baseline":{"value":"middle"}}}}}}}},
 {"width":7,"height":6.5,"view":{"stroke":null},"data":{"values":[]},"mark":{"type":"point"},"encoding":{}},
 {"width":189,"height":69,"data":{"name":"LGBPHS_29721"},"mark":{"type":"rect"},"encoding":{
  "x":{"field":"sx","type":"ordinal","scale":{"type":"band","domain":[1,2,3,4,5,7,9],"paddingInner":0,"paddingOuter":0.1},"axis":null},
  "y":{"field":"sy","type":"ordinal","scale":{"type":"band","domain":[9,7,5,4,3,2,1],"paddingInner":0,"paddingOuter":0.1},"axis":null},
  "color":{"field":"HTER","type":"quantitative","scale":{"domain":[0.007,0.48],"range":["#000000","#ffffff"],"interpolate":"lab"},"legend":{"values":[0.02,0.12,0.22,0.32,0.42],"format":".2f","encode":{"labels":{"update":{"angle":{"value":-90},"align":{"value":"right"},"baseline":{"value":"middle"}}}}}}}},
 {"width":7,"height":6.5,"view":{"stroke":null},"data":{"values":[]},"mark":{"type":"point"},"encoding":{}},
 {"width":189,"height":69,"data":{"name":"LGBPHS_95359"},"mark":{"type":"rect"},"encoding":{
  "x":{"field":"sx","type":"ordinal","scale":{"type":"band","domain":[1,2,3,4,5,7,9],"paddingInner":0,"paddingOuter":0.1},"axis":null},
  "y":{"field":"sy","type":"ordinal","scale":{"type":"band","domain":[9,7,5,4,3,2,1],"paddingInner":0,"paddingOuter":0.1},"axis":null},
  "color":{"field":"HTER","type":"quantitative","scale":{"domain":[0.007,0.48],"range":["#000000","#ffffff"],"interpolate":"lab"},"legend":{"values":[0.02,0.12,0.22,0.32,0.42],"format":".2f","encode":{"labels":{"update":{"angle":{"value":-90},"align":{"value":"right"},"baseline":{"value":"middle"}}}}}}}},
 {"width":15,"height":69,"view":{"fill":"#cccccc","stroke":"#7f7f7f"},"data":{"values":[{"label":"LGBPHS"}]},"mark":{"type":"text","fontSize":10,"angle":90,"font":"Liberation Sans","color":"#1a1a1a"},"encoding":{"text":{"field":"label"}}},

 {"width":7,"height":6.5,"view":{"stroke":null},"data":{"values":[]},"mark":{"type":"point"},"encoding":{}},
 {"width":7,"height":6.5,"view":{"stroke":null},"data":{"values":[]},"mark":{"type":"point"},"encoding":{}},
 {"width":7,"height":6.5,"view":{"stroke":null},"data":{"values":[]},"mark":{"type":"point"},"encoding":{}},
 {"width":7,"height":6.5,"view":{"stroke":null},"data":{"values":[]},"mark":{"type":"point"},"encoding":{}},
 {"width":7,"height":6.5,"view":{"stroke":null},"data":{"values":[]},"mark":{"type":"point"},"encoding":{}},
 {"width":7,"height":6.5,"view":{"stroke":null},"data":{"values":[]},"mark":{"type":"point"},"encoding":{}},

 {"width":189,"height":69,"data":{"name":"ISV_4464"},"mark":{"type":"rect"},"encoding":{
  "x":{"field":"sx","type":"ordinal","scale":{"type":"band","domain":[1,2,3,4,5,7,9],"paddingInner":0,"paddingOuter":0.1},"axis":{"title":null,"labelAngle":270}},
  "y":{"field":"sy","type":"ordinal","scale":{"type":"band","domain":[9,7,5,4,3,2,1],"paddingInner":0,"paddingOuter":0.1},"axis":{"title":null,"labelAngle":0}},
  "color":{"field":"HTER","type":"quantitative","scale":{"domain":[0.007,0.48],"range":["#000000","#ffffff"],"interpolate":"lab"},"legend":{"values":[0.02,0.12,0.22,0.32,0.42],"format":".2f","encode":{"labels":{"update":{"angle":{"value":-90},"align":{"value":"right"},"baseline":{"value":"middle"}}}}}}}},
 {"width":7,"height":6.5,"view":{"stroke":null},"data":{"values":[]},"mark":{"type":"point"},"encoding":{}},
 {"width":189,"height":69,"data":{"name":"ISV_29721"},"mark":{"type":"rect"},"encoding":{
  "x":{"field":"sx","type":"ordinal","scale":{"type":"band","domain":[1,2,3,4,5,7,9],"paddingInner":0,"paddingOuter":0.1},"axis":{"title":"σX : Standard deviation along X−axis (in pixel units of 64x80 normalized image)","labelAngle":270,"titlePadding":10}},
  "y":{"field":"sy","type":"ordinal","scale":{"type":"band","domain":[9,7,5,4,3,2,1],"paddingInner":0,"paddingOuter":0.1},"axis":null},
  "color":{"field":"HTER","type":"quantitative","scale":{"domain":[0.007,0.48],"range":["#000000","#ffffff"],"interpolate":"lab"},"legend":{"values":[0.02,0.12,0.22,0.32,0.42],"format":".2f","encode":{"labels":{"update":{"angle":{"value":-90},"align":{"value":"right"},"baseline":{"value":"middle"}}}}}}}},
 {"width":7,"height":6.5,"view":{"stroke":null},"data":{"values":[]},"mark":{"type":"point"},"encoding":{}},
 {"width":189,"height":69,"data":{"name":"ISV_95359"},"mark":{"type":"rect"},"encoding":{
  "x":{"field":"sx","type":"ordinal","scale":{"type":"band","domain":[1,2,3,4,5,7,9],"paddingInner":0,"paddingOuter":0.1},"axis":{"title":null,"labelAngle":270}},
  "y":{"field":"sy","type":"ordinal","scale":{"type":"band","domain":[9,7,5,4,3,2,1],"paddingInner":0,"paddingOuter":0.1},"axis":null},
  "color":{"field":"HTER","type":"quantitative","scale":{"domain":[0.007,0.48],"range":["#000000","#ffffff"],"interpolate":"lab"},"legend":{"values":[0.02,0.12,0.22,0.32,0.42],"format":".2f","encode":{"labels":{"update":{"angle":{"value":-90},"align":{"value":"right"},"baseline":{"value":"middle"}}}}}}}},
 {"width":15,"height":69,"view":{"fill":"#cccccc","stroke":"#7f7f7f"},"data":{"values":[{"label":"ISV"}]},"mark":{"type":"text","fontSize":10,"angle":90,"font":"Liberation Sans","color":"#1a1a1a"},"encoding":{"text":{"field":"label"}}}
]
}
